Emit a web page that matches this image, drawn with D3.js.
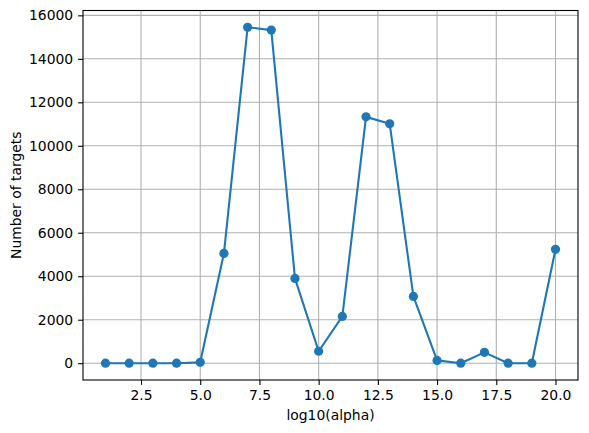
<!DOCTYPE html>
<meta charset="utf-8">
<script src="https://d3js.org/d3.v7.min.js"></script>
<style>
  body { margin: 0; background: #fff; }
  text { font-family: "DejaVu Sans", sans-serif; fill: #000; }
</style>
<body>
<svg id="chart" width="589" height="433"></svg>
<script>
  // data
  var alphas = [1, 2, 3, 4, 5, 6, 7, 8, 9, 10, 11, 12, 13, 14, 15, 16, 17, 18, 19, 20];
  var targets = [0, 0, 0, 0, 40, 5050, 15450, 15320, 3900, 550, 2150, 11330, 11010, 3070, 130, 0, 500, 0, 0, 5240];
  var xTicks = [2.5, 5.0, 7.5, 10.0, 12.5, 15.0, 17.5, 20.0];
  var yTicks = [0, 2000, 4000, 6000, 8000, 10000, 12000, 14000, 16000];

  var svg = d3.select("#chart");
  var mLeft = 83, mRight = 578, mTop = 10.5, mBottom = 380;

  // matplotlib-style 5% margins
  var xpad = (d3.max(alphas) - d3.min(alphas)) * 0.05;
  var ypad = (d3.max(targets) - d3.min(targets)) * 0.05;
  var x = d3.scaleLinear()
    .domain([d3.min(alphas) - xpad, d3.max(alphas) + xpad])
    .range([mLeft, mRight]);
  var y = d3.scaleLinear()
    .domain([d3.min(targets) - ypad, d3.max(targets) + ypad])
    .range([mBottom, mTop]);

  // grid
  var grid = svg.append("g");
  grid.selectAll("line.gx").data(xTicks).enter().append("line")
    .attr("x1", d => x(d)).attr("x2", d => x(d))
    .attr("y1", mTop).attr("y2", mBottom)
    .attr("stroke", "#b0b0b0").attr("stroke-width", 1.1);
  grid.selectAll("line.gy").data(yTicks).enter().append("line")
    .attr("y1", d => y(d)).attr("y2", d => y(d))
    .attr("x1", mLeft).attr("x2", mRight)
    .attr("stroke", "#b0b0b0").attr("stroke-width", 1.1);

  // axes
  var xAxis = svg.append("g")
    .attr("transform", "translate(0," + mBottom + ")")
    .call(d3.axisBottom(x).tickValues(xTicks).tickFormat(d3.format(".1f")).tickSizeOuter(0).tickSize(4.9).tickPadding(4.9));
  var yAxis = svg.append("g")
    .attr("transform", "translate(" + mLeft + ",0)")
    .call(d3.axisLeft(y).tickValues(yTicks).tickFormat(d3.format("d")).tickSizeOuter(0).tickSize(4.9).tickPadding(4.9));
  [xAxis, yAxis].forEach(function (a) {
    a.select(".domain").remove();
    a.selectAll("line").attr("stroke", "#000").attr("stroke-width", 1.1);
    a.selectAll("text").style("font-size", "13.9px").style("font-family", "DejaVu Sans");
  });

  // line + markers
  var pts = alphas.map((a, i) => [a, targets[i]]);
  svg.append("path")
    .datum(pts)
    .attr("fill", "none")
    .attr("stroke", "#1f77b4")
    .attr("stroke-width", 2.1)
    .attr("stroke-linejoin", "round")
    .attr("d", d3.line().x(d => x(d[0])).y(d => y(d[1])));
  svg.append("g").selectAll("circle").data(pts).enter().append("circle")
    .attr("cx", d => x(d[0])).attr("cy", d => y(d[1]))
    .attr("r", 4.6).attr("fill", "#1f77b4");

  // frame
  svg.append("rect")
    .attr("x", mLeft).attr("y", mTop)
    .attr("width", mRight - mLeft).attr("height", mBottom - mTop)
    .attr("fill", "none").attr("stroke", "#000").attr("stroke-width", 1.1);

  // labels
  svg.append("text")
    .attr("x", (mLeft + mRight) / 2).attr("y", 420)
    .attr("text-anchor", "middle")
    .style("font-size", "13.9px")
    .text("log10(alpha)");
  svg.append("text")
    .attr("transform", "translate(21," + (mTop + mBottom) / 2 + ") rotate(-90)")
    .attr("text-anchor", "middle")
    .style("font-size", "13.9px")
    .text("Number of targets");
</script>
</body>
